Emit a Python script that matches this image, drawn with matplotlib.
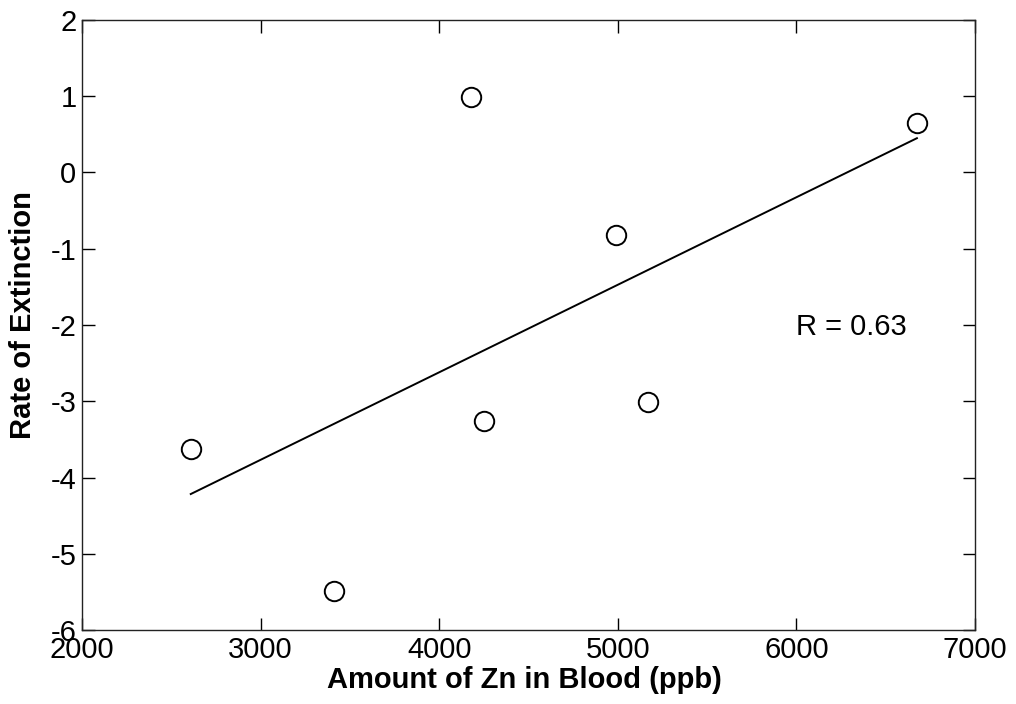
import numpy as np
import matplotlib
matplotlib.use("Agg")
import matplotlib.pyplot as plt

# values
zn_ppb = [2609, 3413, 4176, 4253, 4990, 5171, 6675]
extinction_rate = [-3.63, -5.49, 0.99, -3.26, -0.82, -3.01, 0.65]
r_label = "R = 0.63"

plt.rcParams['font.family'] = ['Liberation Sans', 'DejaVu Sans']
plt.rcParams['axes.unicode_minus'] = False

x = np.array(zn_ppb, dtype=float)
y = np.array(extinction_rate, dtype=float)

# least squares fit drawn across the data range
slope, intercept = np.polyfit(x, y, 1)
fit_x = np.array([x.min(), x.max()])
fit_y = slope * fit_x + intercept

fig = plt.figure(figsize=(10.16, 7.04), dpi=100)
ax = fig.add_axes([0.0807, 0.1051, 0.8789, 0.8665])

ax.plot(x, y, 'o', mfc='none', mec='black', ms=14, mew=1.4)
ax.plot(fit_x, fit_y, '-', color='black', lw=1.4)

ax.text(6000, -2.02, r_label, fontsize=21, ha='left', va='center')

ax.set_xlim(2000, 7000)
ax.set_ylim(-6, 2)
ax.set_xticks(range(2000, 7001, 1000))
ax.set_yticks(range(-6, 3))
ax.tick_params(direction='in', length=9, width=1, top=True, right=True,
               labelsize=21, pad=4)
for sp in ax.spines.values():
    sp.set_linewidth(1.0)
    sp.set_color('#222222')

ax.set_xlabel('Amount of Zn in Blood (ppb)', fontsize=21, fontweight='bold')
ax.set_ylabel('Rate of Extinction', fontsize=21, fontweight='bold')
ax.xaxis.set_label_coords(0.495, -0.059)
ax.yaxis.set_label_coords(-0.050, 0.516)

fig.savefig('out.png', dpi=100)
